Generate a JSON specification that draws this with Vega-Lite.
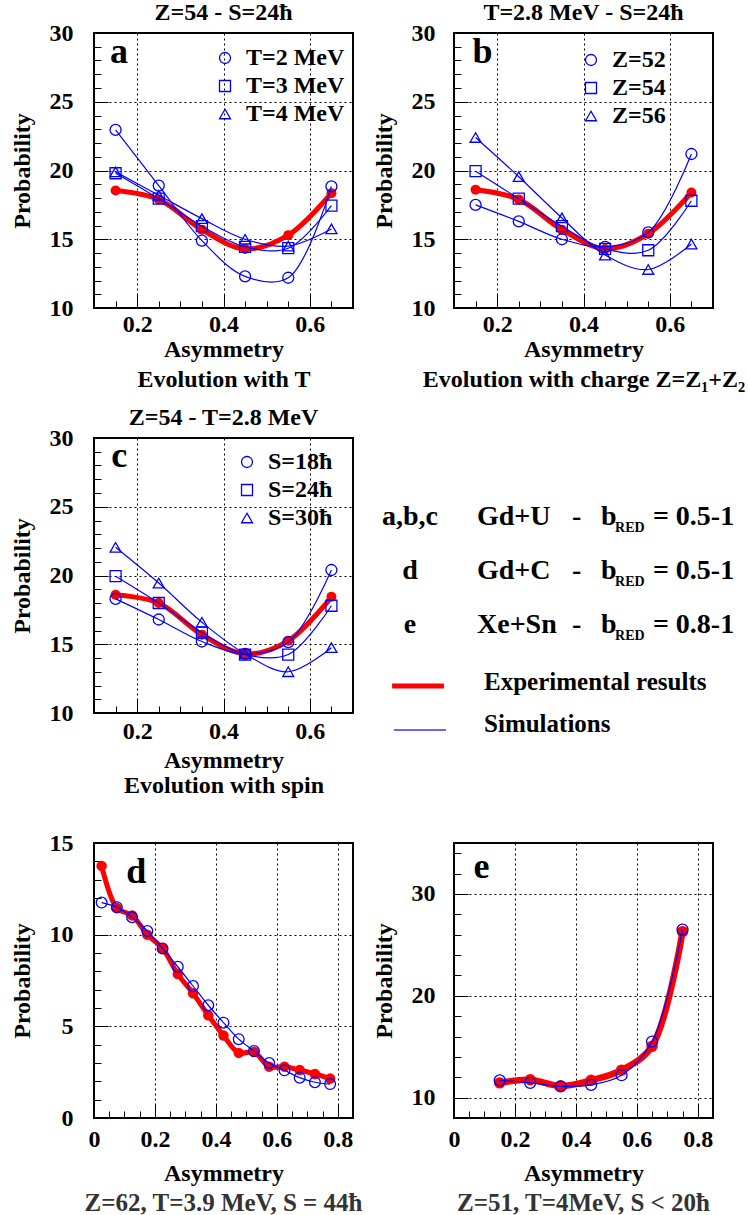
{
  "$schema": "https://vega.github.io/schema/vega-lite/v6.json",
  "background": "white",
  "padding": {"left": 9, "top": 0, "right": 5, "bottom": 2},
  "columns": 2,
  "bounds": "flush",
  "spacing": {"row": 130, "column": 101},
  "resolve": {"scale": {"shape": "independent"}, "legend": {"shape": "independent"}},
  "datasets": {
    "a": [
      {"series": "Experiment", "asym": 0.15, "prob": 18.55}, {"series": "Experiment", "asym": 0.25, "prob": 17.9}, {"series": "Experiment", "asym": 0.35, "prob": 15.7}, {"series": "Experiment", "asym": 0.45, "prob": 14.3}, {"series": "Experiment", "asym": 0.55, "prob": 15.3}, {"series": "Experiment", "asym": 0.65, "prob": 18.35},
      {"series": "T=2 MeV", "asym": 0.15, "prob": 22.95}, {"series": "T=2 MeV", "asym": 0.25, "prob": 18.9}, {"series": "T=2 MeV", "asym": 0.35, "prob": 14.9}, {"series": "T=2 MeV", "asym": 0.45, "prob": 12.3}, {"series": "T=2 MeV", "asym": 0.55, "prob": 12.2}, {"series": "T=2 MeV", "asym": 0.65, "prob": 18.85},
      {"series": "T=3 MeV", "asym": 0.15, "prob": 19.8}, {"series": "T=3 MeV", "asym": 0.25, "prob": 17.95}, {"series": "T=3 MeV", "asym": 0.35, "prob": 15.95}, {"series": "T=3 MeV", "asym": 0.45, "prob": 14.45}, {"series": "T=3 MeV", "asym": 0.55, "prob": 14.35}, {"series": "T=3 MeV", "asym": 0.65, "prob": 17.45},
      {"series": "T=4 MeV", "asym": 0.15, "prob": 19.9}, {"series": "T=4 MeV", "asym": 0.25, "prob": 18.2}, {"series": "T=4 MeV", "asym": 0.35, "prob": 16.5}, {"series": "T=4 MeV", "asym": 0.45, "prob": 15.0}, {"series": "T=4 MeV", "asym": 0.55, "prob": 14.5}, {"series": "T=4 MeV", "asym": 0.65, "prob": 15.75}
    ],
    "b": [
      {"series": "Experiment", "asym": 0.15, "prob": 18.6}, {"series": "Experiment", "asym": 0.25, "prob": 17.9}, {"series": "Experiment", "asym": 0.35, "prob": 15.7}, {"series": "Experiment", "asym": 0.45, "prob": 14.3}, {"series": "Experiment", "asym": 0.55, "prob": 15.4}, {"series": "Experiment", "asym": 0.65, "prob": 18.4},
      {"series": "Z=52", "asym": 0.15, "prob": 17.5}, {"series": "Z=52", "asym": 0.25, "prob": 16.3}, {"series": "Z=52", "asym": 0.35, "prob": 15.0}, {"series": "Z=52", "asym": 0.45, "prob": 14.45}, {"series": "Z=52", "asym": 0.55, "prob": 15.5}, {"series": "Z=52", "asym": 0.65, "prob": 21.2},
      {"series": "Z=54", "asym": 0.15, "prob": 19.95}, {"series": "Z=54", "asym": 0.25, "prob": 17.95}, {"series": "Z=54", "asym": 0.35, "prob": 15.95}, {"series": "Z=54", "asym": 0.45, "prob": 14.3}, {"series": "Z=54", "asym": 0.55, "prob": 14.2}, {"series": "Z=54", "asym": 0.65, "prob": 17.8},
      {"series": "Z=56", "asym": 0.15, "prob": 22.4}, {"series": "Z=56", "asym": 0.25, "prob": 19.55}, {"series": "Z=56", "asym": 0.35, "prob": 16.55}, {"series": "Z=56", "asym": 0.45, "prob": 13.85}, {"series": "Z=56", "asym": 0.55, "prob": 12.8}, {"series": "Z=56", "asym": 0.65, "prob": 14.65}
    ],
    "c": [
      {"series": "Experiment", "asym": 0.15, "prob": 18.6}, {"series": "Experiment", "asym": 0.25, "prob": 18.0}, {"series": "Experiment", "asym": 0.35, "prob": 15.7}, {"series": "Experiment", "asym": 0.45, "prob": 14.3}, {"series": "Experiment", "asym": 0.55, "prob": 15.25}, {"series": "Experiment", "asym": 0.65, "prob": 18.45},
      {"series": "S=18ħ", "asym": 0.15, "prob": 18.3}, {"series": "S=18ħ", "asym": 0.25, "prob": 16.8}, {"series": "S=18ħ", "asym": 0.35, "prob": 15.2}, {"series": "S=18ħ", "asym": 0.45, "prob": 14.3}, {"series": "S=18ħ", "asym": 0.55, "prob": 15.15}, {"series": "S=18ħ", "asym": 0.65, "prob": 20.4},
      {"series": "S=24ħ", "asym": 0.15, "prob": 19.95}, {"series": "S=24ħ", "asym": 0.25, "prob": 18.0}, {"series": "S=24ħ", "asym": 0.35, "prob": 15.85}, {"series": "S=24ħ", "asym": 0.45, "prob": 14.25}, {"series": "S=24ħ", "asym": 0.55, "prob": 14.25}, {"series": "S=24ħ", "asym": 0.65, "prob": 17.8},
      {"series": "S=30ħ", "asym": 0.15, "prob": 22.05}, {"series": "S=30ħ", "asym": 0.25, "prob": 19.45}, {"series": "S=30ħ", "asym": 0.35, "prob": 16.6}, {"series": "S=30ħ", "asym": 0.45, "prob": 14.3}, {"series": "S=30ħ", "asym": 0.55, "prob": 13.0}, {"series": "S=30ħ", "asym": 0.65, "prob": 14.75}
    ],
    "d": [
      {"series": "Experiment", "asym": 0.025, "prob": 13.75}, {"series": "Experiment", "asym": 0.075, "prob": 11.45}, {"series": "Experiment", "asym": 0.125, "prob": 11.05}, {"series": "Experiment", "asym": 0.175, "prob": 10.0}, {"series": "Experiment", "asym": 0.225, "prob": 9.25}, {"series": "Experiment", "asym": 0.275, "prob": 7.85}, {"series": "Experiment", "asym": 0.325, "prob": 6.8}, {"series": "Experiment", "asym": 0.375, "prob": 5.6}, {"series": "Experiment", "asym": 0.425, "prob": 4.5}, {"series": "Experiment", "asym": 0.475, "prob": 3.55}, {"series": "Experiment", "asym": 0.525, "prob": 3.6}, {"series": "Experiment", "asym": 0.575, "prob": 2.8}, {"series": "Experiment", "asym": 0.625, "prob": 2.8}, {"series": "Experiment", "asym": 0.675, "prob": 2.62}, {"series": "Experiment", "asym": 0.725, "prob": 2.4}, {"series": "Experiment", "asym": 0.775, "prob": 2.15},
      {"series": "Simulation", "asym": 0.025, "prob": 11.75}, {"series": "Simulation", "asym": 0.075, "prob": 11.5}, {"series": "Simulation", "asym": 0.125, "prob": 10.95}, {"series": "Simulation", "asym": 0.175, "prob": 10.2}, {"series": "Simulation", "asym": 0.225, "prob": 9.25}, {"series": "Simulation", "asym": 0.275, "prob": 8.25}, {"series": "Simulation", "asym": 0.325, "prob": 7.2}, {"series": "Simulation", "asym": 0.375, "prob": 6.15}, {"series": "Simulation", "asym": 0.425, "prob": 5.2}, {"series": "Simulation", "asym": 0.475, "prob": 4.3}, {"series": "Simulation", "asym": 0.525, "prob": 3.65}, {"series": "Simulation", "asym": 0.575, "prob": 3.0}, {"series": "Simulation", "asym": 0.625, "prob": 2.6}, {"series": "Simulation", "asym": 0.675, "prob": 2.2}, {"series": "Simulation", "asym": 0.725, "prob": 1.95}, {"series": "Simulation", "asym": 0.775, "prob": 1.85}
    ],
    "e": [
      {"series": "Experiment", "asym": 0.15, "prob": 11.45}, {"series": "Experiment", "asym": 0.25, "prob": 11.75}, {"series": "Experiment", "asym": 0.35, "prob": 11.15}, {"series": "Experiment", "asym": 0.45, "prob": 11.7}, {"series": "Experiment", "asym": 0.55, "prob": 12.7}, {"series": "Experiment", "asym": 0.65, "prob": 15.05}, {"series": "Experiment", "asym": 0.75, "prob": 26.3},
      {"series": "Simulation", "asym": 0.15, "prob": 11.7}, {"series": "Simulation", "asym": 0.25, "prob": 11.45}, {"series": "Simulation", "asym": 0.35, "prob": 11.1}, {"series": "Simulation", "asym": 0.45, "prob": 11.25}, {"series": "Simulation", "asym": 0.55, "prob": 12.2}, {"series": "Simulation", "asym": 0.65, "prob": 15.5}, {"series": "Simulation", "asym": 0.75, "prob": 26.5}
    ],
    "info": [
      {"row": 1, "panels": "a,b,c", "system": "Gd+U", "range": "= 0.5-1"},
      {"row": 2, "panels": "d", "system": "Gd+C", "range": "= 0.5-1"},
      {"row": 3, "panels": "e", "system": "Xe+Sn", "range": "= 0.8-1"}
    ]
  },
  "concat": [
    {
      "width": 259, "height": 275,
      "title": {"text": "Z=54 - S=24ħ", "offset": -4, "fontSize": 24},
      "layer": [
        {
          "data": {"name": "a"},
          "encoding": {
            "x": {"field": "asym", "type": "quantitative", "scale": {"domain": [0.1, 0.7], "nice": false, "zero": false},
              "axis": {"values": [0.15, 0.2, 0.25, 0.3, 0.35, 0.4, 0.45, 0.5, 0.55, 0.6, 0.65], "labelExpr": "abs(datum.value/0.2 - round(datum.value/0.2)) < 0.001 ? format(datum.value, '~g') : ''", "tickSize": {"condition": {"test": "abs(datum.value/0.2 - round(datum.value/0.2)) < 0.001", "value": -14}, "value": -7}, "gridOpacity": {"condition": {"test": "abs(datum.value/0.2 - round(datum.value/0.2)) < 0.001", "value": 1}, "value": 0}, "labelPadding": 18, "titlePadding": -6, "titleLineHeight": 30, "title": ["Asymmetry", "Evolution with T"]}},
            "y": {"field": "prob", "type": "quantitative", "scale": {"domain": [10, 30], "nice": false, "zero": false},
              "axis": {"values": [10, 11, 12, 13, 14, 15, 16, 17, 18, 19, 20, 21, 22, 23, 24, 25, 26, 27, 28, 29, 30], "labelExpr": "datum.value % 5 === 0 ? format(datum.value, '~g') : ''", "tickSize": {"condition": {"test": "datum.value % 5 === 0", "value": -14}, "value": -7}, "gridOpacity": {"condition": {"test": "datum.value % 5 === 0", "value": 1}, "value": 0}, "labelPadding": 35, "titlePadding": 15, "title": "Probability"}}
          },
          "layer": [
            {"transform": [{"filter": "datum.series === 'Experiment'"}], "mark": {"type": "line", "color": "#ff0000", "strokeWidth": 5, "interpolate": "catmull-rom"}},
            {"transform": [{"filter": "datum.series === 'Experiment'"}], "mark": {"type": "circle", "color": "#ff0000", "size": 100, "opacity": 1}},
            {"transform": [{"filter": "datum.series !== 'Experiment'"}], "mark": {"type": "line", "color": "#0000ff", "strokeWidth": 1.2, "interpolate": "catmull-rom"}, "encoding": {"detail": {"field": "series"}}},
            {"transform": [{"filter": "datum.series !== 'Experiment'"}], "mark": {"type": "point", "filled": false, "color": "#0000ff", "strokeWidth": 1.3, "size": 121, "opacity": 1},
              "encoding": {"shape": {"field": "series", "type": "nominal", "scale": {"domain": ["T=2 MeV", "T=3 MeV", "T=4 MeV"], "range": ["circle", "square", "triangle-up"]}, "legend": {"orient": "none", "legendX": 119, "legendY": 13, "title": null}}}}
          ]
        },
        {"data": {"values": [{"panel": "a"}]}, "mark": {"type": "text", "fontSize": 36, "fontWeight": "bold", "align": "left", "baseline": "alphabetic"},
          "encoding": {
            "x": {"datum": 0.137, "type": "quantitative", "scale": {"domain": [0.1, 0.7], "nice": false, "zero": false},
              "axis": {"values": [0.15, 0.2, 0.25, 0.3, 0.35, 0.4, 0.45, 0.5, 0.55, 0.6, 0.65], "labelExpr": "abs(datum.value/0.2 - round(datum.value/0.2)) < 0.001 ? format(datum.value, '~g') : ''", "tickSize": {"condition": {"test": "abs(datum.value/0.2 - round(datum.value/0.2)) < 0.001", "value": -14}, "value": -7}, "gridOpacity": {"condition": {"test": "abs(datum.value/0.2 - round(datum.value/0.2)) < 0.001", "value": 1}, "value": 0}, "labelPadding": 18, "titlePadding": -6, "titleLineHeight": 30, "title": ["Asymmetry", "Evolution with T"]}},
            "y": {"datum": 27.82, "type": "quantitative", "scale": {"domain": [10, 30], "nice": false, "zero": false},
              "axis": {"values": [10, 11, 12, 13, 14, 15, 16, 17, 18, 19, 20, 21, 22, 23, 24, 25, 26, 27, 28, 29, 30], "labelExpr": "datum.value % 5 === 0 ? format(datum.value, '~g') : ''", "tickSize": {"condition": {"test": "datum.value % 5 === 0", "value": -14}, "value": -7}, "gridOpacity": {"condition": {"test": "datum.value % 5 === 0", "value": 1}, "value": 0}, "labelPadding": 35, "titlePadding": 15, "title": "Probability"}},
            "text": {"field": "panel"}}}
      ]
    },
    {
      "width": 259, "height": 275,
      "title": {"text": "T=2.8 MeV - S=24ħ", "offset": -4, "fontSize": 24},
      "layer": [
        {
          "data": {"name": "b"},
          "encoding": {
            "x": {"field": "asym", "type": "quantitative", "scale": {"domain": [0.1, 0.7], "nice": false, "zero": false},
              "axis": {"values": [0.15, 0.2, 0.25, 0.3, 0.35, 0.4, 0.45, 0.5, 0.55, 0.6, 0.65], "labelExpr": "abs(datum.value/0.2 - round(datum.value/0.2)) < 0.001 ? format(datum.value, '~g') : ''", "tickSize": {"condition": {"test": "abs(datum.value/0.2 - round(datum.value/0.2)) < 0.001", "value": -14}, "value": -7}, "gridOpacity": {"condition": {"test": "abs(datum.value/0.2 - round(datum.value/0.2)) < 0.001", "value": 1}, "value": 0}, "labelPadding": 18, "titlePadding": -6, "titleLineHeight": 30, "title": ["Asymmetry", "Evolution with charge Z=Z₁+Z₂"]}},
            "y": {"field": "prob", "type": "quantitative", "scale": {"domain": [10, 30], "nice": false, "zero": false},
              "axis": {"values": [10, 11, 12, 13, 14, 15, 16, 17, 18, 19, 20, 21, 22, 23, 24, 25, 26, 27, 28, 29, 30], "labelExpr": "datum.value % 5 === 0 ? format(datum.value, '~g') : ''", "tickSize": {"condition": {"test": "datum.value % 5 === 0", "value": -14}, "value": -7}, "gridOpacity": {"condition": {"test": "datum.value % 5 === 0", "value": 1}, "value": 0}, "labelPadding": 33, "titlePadding": 15, "title": "Probability"}}
          },
          "layer": [
            {"transform": [{"filter": "datum.series === 'Experiment'"}], "mark": {"type": "line", "color": "#ff0000", "strokeWidth": 5, "interpolate": "catmull-rom"}},
            {"transform": [{"filter": "datum.series === 'Experiment'"}], "mark": {"type": "circle", "color": "#ff0000", "size": 100, "opacity": 1}},
            {"transform": [{"filter": "datum.series !== 'Experiment'"}], "mark": {"type": "line", "color": "#0000ff", "strokeWidth": 1.2, "interpolate": "catmull-rom"}, "encoding": {"detail": {"field": "series"}}},
            {"transform": [{"filter": "datum.series !== 'Experiment'"}], "mark": {"type": "point", "filled": false, "color": "#0000ff", "strokeWidth": 1.3, "size": 121, "opacity": 1},
              "encoding": {"shape": {"field": "series", "type": "nominal", "scale": {"domain": ["Z=52", "Z=54", "Z=56"], "range": ["circle", "square", "triangle-up"]}, "legend": {"orient": "none", "legendX": 125, "legendY": 15, "title": null}}}}
          ]
        },
        {"data": {"values": [{"panel": "b"}]}, "mark": {"type": "text", "fontSize": 36, "fontWeight": "bold", "align": "left", "baseline": "alphabetic"},
          "encoding": {
            "x": {"datum": 0.143, "type": "quantitative", "scale": {"domain": [0.1, 0.7], "nice": false, "zero": false},
              "axis": {"values": [0.15, 0.2, 0.25, 0.3, 0.35, 0.4, 0.45, 0.5, 0.55, 0.6, 0.65], "labelExpr": "abs(datum.value/0.2 - round(datum.value/0.2)) < 0.001 ? format(datum.value, '~g') : ''", "tickSize": {"condition": {"test": "abs(datum.value/0.2 - round(datum.value/0.2)) < 0.001", "value": -14}, "value": -7}, "gridOpacity": {"condition": {"test": "abs(datum.value/0.2 - round(datum.value/0.2)) < 0.001", "value": 1}, "value": 0}, "labelPadding": 18, "titlePadding": -6, "titleLineHeight": 30, "title": ["Asymmetry", "Evolution with charge Z=Z₁+Z₂"]}},
            "y": {"datum": 27.82, "type": "quantitative", "scale": {"domain": [10, 30], "nice": false, "zero": false},
              "axis": {"values": [10, 11, 12, 13, 14, 15, 16, 17, 18, 19, 20, 21, 22, 23, 24, 25, 26, 27, 28, 29, 30], "labelExpr": "datum.value % 5 === 0 ? format(datum.value, '~g') : ''", "tickSize": {"condition": {"test": "datum.value % 5 === 0", "value": -14}, "value": -7}, "gridOpacity": {"condition": {"test": "datum.value % 5 === 0", "value": 1}, "value": 0}, "labelPadding": 33, "titlePadding": 15, "title": "Probability"}},
            "text": {"field": "panel"}}}
      ]
    },
    {
      "width": 259, "height": 275,
      "title": {"text": "Z=54 - T=2.8 MeV", "offset": -4, "fontSize": 24},
      "layer": [
        {
          "data": {"name": "c"},
          "encoding": {
            "x": {"field": "asym", "type": "quantitative", "scale": {"domain": [0.1, 0.7], "nice": false, "zero": false},
              "axis": {"values": [0.15, 0.2, 0.25, 0.3, 0.35, 0.4, 0.45, 0.5, 0.55, 0.6, 0.65], "labelExpr": "abs(datum.value/0.2 - round(datum.value/0.2)) < 0.001 ? format(datum.value, '~g') : ''", "tickSize": {"condition": {"test": "abs(datum.value/0.2 - round(datum.value/0.2)) < 0.001", "value": -14}, "value": -7}, "gridOpacity": {"condition": {"test": "abs(datum.value/0.2 - round(datum.value/0.2)) < 0.001", "value": 1}, "value": 0}, "labelPadding": 20, "titlePadding": -2, "titleLineHeight": 25, "title": ["Asymmetry", "Evolution with spin"]}},
            "y": {"field": "prob", "type": "quantitative", "scale": {"domain": [10, 30], "nice": false, "zero": false},
              "axis": {"values": [10, 11, 12, 13, 14, 15, 16, 17, 18, 19, 20, 21, 22, 23, 24, 25, 26, 27, 28, 29, 30], "labelExpr": "datum.value % 5 === 0 ? format(datum.value, '~g') : ''", "tickSize": {"condition": {"test": "datum.value % 5 === 0", "value": -14}, "value": -7}, "gridOpacity": {"condition": {"test": "datum.value % 5 === 0", "value": 1}, "value": 0}, "labelPadding": 35, "titlePadding": 15, "title": "Probability"}}
          },
          "layer": [
            {"transform": [{"filter": "datum.series === 'Experiment'"}], "mark": {"type": "line", "color": "#ff0000", "strokeWidth": 5, "interpolate": "catmull-rom"}},
            {"transform": [{"filter": "datum.series === 'Experiment'"}], "mark": {"type": "circle", "color": "#ff0000", "size": 100, "opacity": 1}},
            {"transform": [{"filter": "datum.series !== 'Experiment'"}], "mark": {"type": "line", "color": "#0000ff", "strokeWidth": 1.2, "interpolate": "catmull-rom"}, "encoding": {"detail": {"field": "series"}}},
            {"transform": [{"filter": "datum.series !== 'Experiment'"}], "mark": {"type": "point", "filled": false, "color": "#0000ff", "strokeWidth": 1.3, "size": 121, "opacity": 1},
              "encoding": {"shape": {"field": "series", "type": "nominal", "scale": {"domain": ["S=18ħ", "S=24ħ", "S=30ħ"], "range": ["circle", "square", "triangle-up"]}, "legend": {"orient": "none", "legendX": 141, "legendY": 12, "title": null}}}}
          ]
        },
        {"data": {"values": [{"panel": "c"}]}, "mark": {"type": "text", "fontSize": 36, "fontWeight": "bold", "align": "left", "baseline": "alphabetic"},
          "encoding": {
            "x": {"datum": 0.14, "type": "quantitative", "scale": {"domain": [0.1, 0.7], "nice": false, "zero": false},
              "axis": {"values": [0.15, 0.2, 0.25, 0.3, 0.35, 0.4, 0.45, 0.5, 0.55, 0.6, 0.65], "labelExpr": "abs(datum.value/0.2 - round(datum.value/0.2)) < 0.001 ? format(datum.value, '~g') : ''", "tickSize": {"condition": {"test": "abs(datum.value/0.2 - round(datum.value/0.2)) < 0.001", "value": -14}, "value": -7}, "gridOpacity": {"condition": {"test": "abs(datum.value/0.2 - round(datum.value/0.2)) < 0.001", "value": 1}, "value": 0}, "labelPadding": 20, "titlePadding": -2, "titleLineHeight": 25, "title": ["Asymmetry", "Evolution with spin"]}},
            "y": {"datum": 27.9, "type": "quantitative", "scale": {"domain": [10, 30], "nice": false, "zero": false},
              "axis": {"values": [10, 11, 12, 13, 14, 15, 16, 17, 18, 19, 20, 21, 22, 23, 24, 25, 26, 27, 28, 29, 30], "labelExpr": "datum.value % 5 === 0 ? format(datum.value, '~g') : ''", "tickSize": {"condition": {"test": "datum.value % 5 === 0", "value": -14}, "value": -7}, "gridOpacity": {"condition": {"test": "datum.value % 5 === 0", "value": 1}, "value": 0}, "labelPadding": 35, "titlePadding": 15, "title": "Probability"}},
            "text": {"field": "panel"}}}
      ]
    },
    {
      "width": 259, "height": 275,
      "view": {"stroke": null},
      "layer": [
        {"data": {"name": "info"}, "mark": {"type": "text", "fontSize": 28, "fontWeight": "bold", "align": "center", "baseline": "alphabetic", "clip": false},
          "encoding": {"x": {"datum": -0.17, "type": "quantitative", "scale": {"domain": [0, 1], "nice": false, "zero": false}, "axis": null}, "y": {"field": "row", "type": "quantitative", "scale": {"domain": [-0.611, 4.481], "reverse": true, "nice": false, "zero": false}, "axis": null}, "text": {"field": "panels"}}},
        {"data": {"name": "info"}, "mark": {"type": "text", "fontSize": 28, "fontWeight": "bold", "align": "left", "baseline": "alphabetic", "clip": false},
          "encoding": {"x": {"datum": 0.0888, "type": "quantitative", "axis": null}, "y": {"field": "row", "type": "quantitative", "axis": null}, "text": {"field": "system"}}},
        {"data": {"name": "info"}, "mark": {"type": "text", "text": "-", "fontSize": 28, "fontWeight": "bold", "align": "left", "baseline": "alphabetic", "clip": false},
          "encoding": {"x": {"datum": 0.456, "type": "quantitative", "axis": null}, "y": {"field": "row", "type": "quantitative", "axis": null}}},
        {"data": {"name": "info"}, "mark": {"type": "text", "text": "b", "fontSize": 28, "fontWeight": "bold", "align": "left", "baseline": "alphabetic", "clip": false},
          "encoding": {"x": {"datum": 0.568, "type": "quantitative", "axis": null}, "y": {"field": "row", "type": "quantitative", "axis": null}}},
        {"data": {"name": "info"}, "mark": {"type": "text", "text": "RED", "fontSize": 14, "fontWeight": "bold", "align": "left", "baseline": "alphabetic", "dy": 7, "clip": false},
          "encoding": {"x": {"datum": 0.622, "type": "quantitative", "axis": null}, "y": {"field": "row", "type": "quantitative", "axis": null}}},
        {"data": {"name": "info"}, "mark": {"type": "text", "fontSize": 28, "fontWeight": "bold", "align": "left", "baseline": "alphabetic", "clip": false},
          "encoding": {"x": {"datum": 0.768, "type": "quantitative", "axis": null}, "y": {"field": "row", "type": "quantitative", "axis": null}, "text": {"field": "range"}}},
        {"data": {"values": [{"series": "Experimental results"}]}, "mark": {"type": "rule", "color": "#ff0000", "strokeWidth": 5, "clip": false},
          "encoding": {"x": {"datum": -0.239, "type": "quantitative", "axis": null}, "x2": {"datum": -0.039}, "y": {"datum": 3.981, "type": "quantitative", "axis": null}}},
        {"data": {"values": [{"series": "Experimental results"}]}, "mark": {"type": "text", "fontSize": 25, "fontWeight": "bold", "align": "left", "baseline": "alphabetic", "clip": false},
          "encoding": {"x": {"datum": 0.116, "type": "quantitative", "axis": null}, "y": {"datum": 4.056, "type": "quantitative", "axis": null}, "text": {"field": "series"}}},
        {"data": {"values": [{"series": "Simulations"}]}, "mark": {"type": "rule", "color": "#3333ff", "strokeWidth": 1.3, "clip": false},
          "encoding": {"x": {"datum": -0.232, "type": "quantitative", "axis": null}, "x2": {"datum": -0.031}, "y": {"datum": 4.796, "type": "quantitative", "axis": null}}},
        {"data": {"values": [{"series": "Simulations"}]}, "mark": {"type": "text", "fontSize": 25, "fontWeight": "bold", "align": "left", "baseline": "alphabetic", "clip": false},
          "encoding": {"x": {"datum": 0.116, "type": "quantitative", "axis": null}, "y": {"datum": 4.833, "type": "quantitative", "axis": null}, "text": {"field": "series"}}}
      ]
    },
    {
      "width": 259, "height": 275,
      "title": {"text": "Z=62, T=3.9 MeV, S = 44ħ", "orient": "bottom", "offset": 6, "fontSize": 25, "color": "#333333"},
      "layer": [
        {
          "data": {"name": "d"},
          "encoding": {
            "x": {"field": "asym", "type": "quantitative", "scale": {"domain": [0, 0.85], "nice": false, "zero": false},
              "axis": {"values": [0, 0.05, 0.1, 0.15, 0.2, 0.25, 0.3, 0.35, 0.4, 0.45, 0.5, 0.55, 0.6, 0.65, 0.7, 0.75, 0.8], "labelExpr": "abs(datum.value/0.2 - round(datum.value/0.2)) < 0.001 ? format(datum.value, '~g') : ''", "tickSize": {"condition": {"test": "abs(datum.value/0.2 - round(datum.value/0.2)) < 0.001", "value": -14}, "value": -7}, "gridOpacity": {"condition": {"test": "abs(datum.value/0.2 - round(datum.value/0.2)) < 0.001", "value": 1}, "value": 0}, "labelPadding": 23, "titlePadding": 3, "title": "Asymmetry"}},
            "y": {"field": "prob", "type": "quantitative", "scale": {"domain": [0, 15], "nice": false, "zero": false},
              "axis": {"values": [0, 1, 2, 3, 4, 5, 6, 7, 8, 9, 10, 11, 12, 13, 14, 15], "labelExpr": "datum.value % 5 === 0 ? format(datum.value, '~g') : ''", "tickSize": {"condition": {"test": "datum.value % 5 === 0", "value": -14}, "value": -7}, "gridOpacity": {"condition": {"test": "datum.value % 5 === 0", "value": 1}, "value": 0}, "labelPadding": 35, "titlePadding": 15, "title": "Probability"}}
          },
          "layer": [
            {"transform": [{"filter": "datum.series === 'Experiment'"}], "mark": {"type": "line", "color": "#ff0000", "strokeWidth": 5, "interpolate": "catmull-rom"}},
            {"transform": [{"filter": "datum.series === 'Experiment'"}], "mark": {"type": "circle", "color": "#ff0000", "size": 110, "opacity": 1}},
            {"transform": [{"filter": "datum.series !== 'Experiment'"}], "mark": {"type": "line", "color": "#0000ff", "strokeWidth": 1.2, "interpolate": "catmull-rom"}},
            {"transform": [{"filter": "datum.series !== 'Experiment'"}], "mark": {"type": "point", "shape": "circle", "filled": false, "color": "#0000ff", "strokeWidth": 1.3, "size": 115, "opacity": 1}}
          ]
        },
        {"data": {"values": [{"panel": "d"}]}, "mark": {"type": "text", "fontSize": 36, "fontWeight": "bold", "align": "left", "baseline": "alphabetic"},
          "encoding": {
            "x": {"datum": 0.106, "type": "quantitative", "scale": {"domain": [0, 0.85], "nice": false, "zero": false},
              "axis": {"values": [0, 0.05, 0.1, 0.15, 0.2, 0.25, 0.3, 0.35, 0.4, 0.45, 0.5, 0.55, 0.6, 0.65, 0.7, 0.75, 0.8], "labelExpr": "abs(datum.value/0.2 - round(datum.value/0.2)) < 0.001 ? format(datum.value, '~g') : ''", "tickSize": {"condition": {"test": "abs(datum.value/0.2 - round(datum.value/0.2)) < 0.001", "value": -14}, "value": -7}, "gridOpacity": {"condition": {"test": "abs(datum.value/0.2 - round(datum.value/0.2)) < 0.001", "value": 1}, "value": 0}, "labelPadding": 23, "titlePadding": 3, "title": "Asymmetry"}},
            "y": {"datum": 12.83, "type": "quantitative", "scale": {"domain": [0, 15], "nice": false, "zero": false},
              "axis": {"values": [0, 1, 2, 3, 4, 5, 6, 7, 8, 9, 10, 11, 12, 13, 14, 15], "labelExpr": "datum.value % 5 === 0 ? format(datum.value, '~g') : ''", "tickSize": {"condition": {"test": "datum.value % 5 === 0", "value": -14}, "value": -7}, "gridOpacity": {"condition": {"test": "datum.value % 5 === 0", "value": 1}, "value": 0}, "labelPadding": 35, "titlePadding": 15, "title": "Probability"}},
            "text": {"field": "panel"}}}
      ]
    },
    {
      "width": 259, "height": 275,
      "title": {"text": "Z=51, T=4MeV, S < 20ħ", "orient": "bottom", "offset": 6, "fontSize": 25, "color": "#333333"},
      "layer": [
        {
          "data": {"name": "e"},
          "encoding": {
            "x": {"field": "asym", "type": "quantitative", "scale": {"domain": [0, 0.85], "nice": false, "zero": false},
              "axis": {"values": [0, 0.05, 0.1, 0.15, 0.2, 0.25, 0.3, 0.35, 0.4, 0.45, 0.5, 0.55, 0.6, 0.65, 0.7, 0.75, 0.8], "labelExpr": "abs(datum.value/0.2 - round(datum.value/0.2)) < 0.001 ? format(datum.value, '~g') : ''", "tickSize": {"condition": {"test": "abs(datum.value/0.2 - round(datum.value/0.2)) < 0.001", "value": -14}, "value": -7}, "gridOpacity": {"condition": {"test": "abs(datum.value/0.2 - round(datum.value/0.2)) < 0.001", "value": 1}, "value": 0}, "labelPadding": 23, "titlePadding": 3, "title": "Asymmetry"}},
            "y": {"field": "prob", "type": "quantitative", "scale": {"domain": [8, 35], "nice": false, "zero": false},
              "axis": {"values": [8, 10, 12, 14, 16, 18, 20, 22, 24, 26, 28, 30, 32, 34], "labelExpr": "datum.value % 10 === 0 ? format(datum.value, '~g') : ''", "tickSize": {"condition": {"test": "datum.value % 10 === 0", "value": -14}, "value": -7}, "gridOpacity": {"condition": {"test": "datum.value % 10 === 0", "value": 1}, "value": 0}, "labelPadding": 33, "titlePadding": 15, "title": "Probability"}}
          },
          "layer": [
            {"transform": [{"filter": "datum.series === 'Experiment'"}], "mark": {"type": "line", "color": "#ff0000", "strokeWidth": 6.5, "interpolate": "catmull-rom"}},
            {"transform": [{"filter": "datum.series === 'Experiment'"}], "mark": {"type": "circle", "color": "#ff0000", "size": 130, "opacity": 1}},
            {"transform": [{"filter": "datum.series !== 'Experiment'"}], "mark": {"type": "line", "color": "#0000ff", "strokeWidth": 1.2, "interpolate": "catmull-rom"}},
            {"transform": [{"filter": "datum.series !== 'Experiment'"}], "mark": {"type": "point", "shape": "circle", "filled": false, "color": "#0000ff", "strokeWidth": 1.3, "size": 121, "opacity": 1}}
          ]
        },
        {"data": {"values": [{"panel": "e"}]}, "mark": {"type": "text", "fontSize": 36, "fontWeight": "bold", "align": "left", "baseline": "alphabetic"},
          "encoding": {
            "x": {"datum": 0.064, "type": "quantitative", "scale": {"domain": [0, 0.85], "nice": false, "zero": false},
              "axis": {"values": [0, 0.05, 0.1, 0.15, 0.2, 0.25, 0.3, 0.35, 0.4, 0.45, 0.5, 0.55, 0.6, 0.65, 0.7, 0.75, 0.8], "labelExpr": "abs(datum.value/0.2 - round(datum.value/0.2)) < 0.001 ? format(datum.value, '~g') : ''", "tickSize": {"condition": {"test": "abs(datum.value/0.2 - round(datum.value/0.2)) < 0.001", "value": -14}, "value": -7}, "gridOpacity": {"condition": {"test": "abs(datum.value/0.2 - round(datum.value/0.2)) < 0.001", "value": 1}, "value": 0}, "labelPadding": 23, "titlePadding": 3, "title": "Asymmetry"}},
            "y": {"datum": 31.6, "type": "quantitative", "scale": {"domain": [8, 35], "nice": false, "zero": false},
              "axis": {"values": [8, 10, 12, 14, 16, 18, 20, 22, 24, 26, 28, 30, 32, 34], "labelExpr": "datum.value % 10 === 0 ? format(datum.value, '~g') : ''", "tickSize": {"condition": {"test": "datum.value % 10 === 0", "value": -14}, "value": -7}, "gridOpacity": {"condition": {"test": "datum.value % 10 === 0", "value": 1}, "value": 0}, "labelPadding": 33, "titlePadding": 15, "title": "Probability"}},
            "text": {"field": "panel"}}}
      ]
    }
  ],
  "config": {
    "font": "Liberation Serif, Times New Roman, Times, DejaVu Serif, serif",
    "view": {"stroke": "black", "strokeWidth": 2},
    "axis": {"labelFont": "Liberation Serif, Times New Roman, Times, DejaVu Serif, serif", "labelFontWeight": "bold", "labelFontSize": 24, "labelColor": "black", "labelFlush": false, "labelOverlap": false, "titleFont": "Liberation Serif, Times New Roman, Times, DejaVu Serif, serif", "titleFontWeight": "bold", "titleFontSize": 24, "titleColor": "black", "domain": false, "grid": true, "gridColor": "black", "gridDash": [2, 3], "gridWidth": 1, "ticks": true, "tickColor": "black", "tickWidth": 1},
    "title": {"font": "Liberation Serif, Times New Roman, Times, DejaVu Serif, serif", "fontWeight": "bold", "fontSize": 22, "color": "black"},
    "text": {"font": "Liberation Serif, Times New Roman, Times, DejaVu Serif, serif", "color": "black"},
    "legend": {"labelFont": "Liberation Serif, Times New Roman, Times, DejaVu Serif, serif", "labelFontWeight": "bold", "labelFontSize": 24, "labelColor": "black", "symbolSize": 121, "symbolStrokeWidth": 1.3, "symbolStrokeColor": "#0000ff", "symbolFillColor": "transparent", "labelOffset": 9, "rowPadding": 4, "padding": 0}
  }
}
